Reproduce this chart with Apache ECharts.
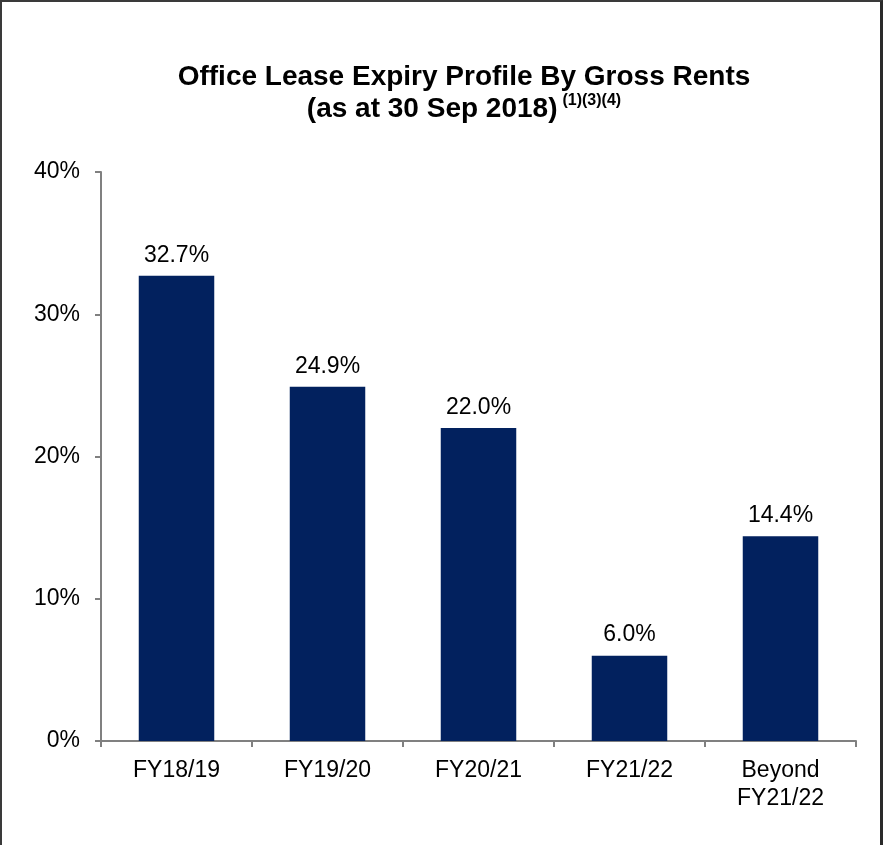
<!DOCTYPE html>
<html>
<head>
<meta charset="utf-8">
<script src="https://cdn.jsdelivr.net/npm/echarts@6/dist/echarts.min.js"></script>
<style>
  html, body { margin: 0; padding: 0; background: #fff; }
  #wrap { position: relative; width: 883px; height: 845px; }
  #chart { position: absolute; left: 0; top: 0; width: 883px; height: 845px; }
  #frame { position: absolute; left: 0; top: 0; width: 883px; height: 845px; box-sizing: border-box;
           border-left: 2px solid #3a3a3a; border-top: 2px solid #3a3a3a; border-right: 3px solid #2a2a2a;
           pointer-events: none; }
</style>
</head>
<body>
<div id="wrap">
  <div id="chart"></div>
  <div id="frame"></div>
</div>
<script>
const categories = ['FY18/19', 'FY19/20', 'FY20/21', 'FY21/22', 'Beyond\nFY21/22'];
const expiryShare = [32.7, 24.9, 22.0, 6.0, 14.4];
const yTicks = [0, 10, 20, 30, 40];

const font = 'Arial, "Liberation Sans", sans-serif';
const chart = echarts.init(document.getElementById('chart'), null, { renderer: 'canvas' });

chart.setOption({
  animation: false,
  backgroundColor: '#fff',
  title: {
    left: 459,
    textAlign: 'center',
    top: 56,
    text: '{t|Office Lease Expiry Profile By Gross Rents}\n{t|(as at 30 Sep 2018)} {s|(1)(3)(4)}',
    textStyle: {
      rich: {
        t: { fontFamily: font, fontSize: 28, fontWeight: 'bold', color: '#000', lineHeight: 32 },
        s: { fontFamily: font, fontSize: 16, fontWeight: 'bold', color: '#000', verticalAlign: 'top', lineHeight: 32, padding: [0, 0, 12, 0] }
      }
    }
  },
  grid: { left: 101, right: 27, top: 172, bottom: 104, containLabel: false },
  xAxis: {
    type: 'category',
    data: categories,
    axisLine: { lineStyle: { color: '#808080', width: 2 } },
    axisTick: { show: true, length: 6, lineStyle: { color: '#808080', width: 2 } },
    axisLabel: { fontFamily: font, fontSize: 23, color: '#000', margin: 16, lineHeight: 28 }
  },
  yAxis: {
    type: 'value',
    min: 0,
    max: 40,
    interval: 10,
    splitLine: { show: false },
    axisLine: { show: true, lineStyle: { color: '#808080', width: 2 } },
    axisTick: { show: true, length: 6, lineStyle: { color: '#808080', width: 2 } },
    axisLabel: {
      fontFamily: font, fontSize: 23, color: '#000', margin: 21,
      formatter: v => (yTicks.includes(v) ? v + '%' : '')
    }
  },
  series: [{
    type: 'bar',
    data: expiryShare,
    barWidth: '50%',
    itemStyle: { color: '#02215E' },
    label: {
      show: true,
      position: 'top',
      distance: 9,
      fontFamily: font,
      fontSize: 23,
      color: '#000',
      formatter: p => p.value.toFixed(1) + '%'
    }
  }]
});
</script>
</body>
</html>
